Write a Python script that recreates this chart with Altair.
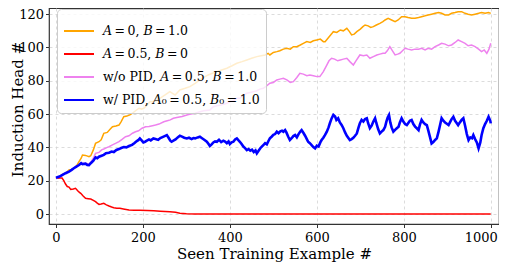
import altair as alt
import pandas as pd

T = "\u2009"
labels = [f"𝐴{T}={T}0, 𝐵{T}={T}1.0", f"𝐴{T}={T}0.5, 𝐵{T}={T}0",
          f"w/o PID, 𝐴{T}={T}0.5, 𝐵{T}={T}1.0", f"w/ PID, 𝐴₀{T}={T}0.5, 𝐵₀{T}={T}1.0"]
colors = ["#FFA500", "#FF0000", "#EE82EE", "#0000FF"]
x_ticks = [0, 200, 400, 600, 800, 1000]
y_ticks = [0, 20, 40, 60, 80, 100, 120]

orange = [(0,21.5),(8,22.3),(15,23.8),(22,24.5),(30,26.4),(36,26.8),(41,27.4),(47,28.8),(53,31.4),(58,33.5),(61,35.4),(68,35.2),(76,34.4),(80,35),(86,38.5),(91,42.4),(99,43.4),(104,44.5),(110,48.4),(118,49),(125,51),(130,52.4),(138,52.8),(145,53.4),(150,55.5),(156,58.4),(163,58.8),(170,59.5),(176,60.5),(183,62),(191,63.5),(197,63),(202,63.5),(210,65.5),(216,67.4),(222,67.4),(230,68),(239,69.5),(251,71.5),(262,73.5),(268,72.5),(274,71.5),(285,74.5),(297,75.5),(308,76.5),(320,78.5),(331,80.5),(340,82),(350,83.5),(360,84.5),(370,85.5),(381,86.5),(393,87.5),(405,89),(416,90.5),(428,91.5),(439,92.5),(450,93.5),(462,94.5),(472,95),(481,95.5),(488,96.5),(492,95.5),(500,97),(508,97.5),(515,98),(523,99),(531,99.5),(539,99),(546,100.5),(554,100.5),(562,101.5),(569,102.5),(577,103.5),(585,103),(592,104),(600,104.5),(608,105),(615,103.5),(619,103.5),(627,106),(635,108.5),(638,109.5),(646,109),(654,110.5),(661,110),(669,111.5),(675,109.5),(680,107.5),(686,108),(692,109.5),(700,111),(706,112.5),(711,113.5),(718,113),(724,112),(730,112.5),(737,113.5),(745,114.5),(752,115.5),(757,116.5),(764,117.5),(772,116.5),(780,115.5),(787,116.5),(795,118.5),(803,118.5),(810,118),(818,117.5),(826,117.5),(834,118),(841,118.5),(849,119),(856,119.5),(864,120),(872,120.5),(880,121),(887,120.5),(895,119.5),(903,119.5),(910,120.5),(918,121),(925,121.5),(933,121.5),(941,120.5),(948,120),(956,119.5),(964,120),(972,120.5),(979,121),(987,120.5),(995,121),(1000,120.5)]

red = [(0,21.5),(10,21.6),(14,21.6),(18,20),(22,18),(26,16.5),(30,16.2),(34,14.8),(40,15),(45,15.4),(50,14),(54,13),(57,12.4),(62,11),(68,9.4),(74,9.2),(80,9),(86,8.2),(91,7.4),(95,6.5),(99,5.8),(104,6),(110,6.4),(116,5.5),(122,4.8),(128,4.2),(133,3.8),(140,3.5),(147,3.4),(155,3),(168,2.4),(180,2.3),(193,2.3),(210,2.1),(225,1.9),(240,1.7),(262,1.4),(275,1.0),(285,0.5),(300,0.2),(320,0.05),(331,0),(400,0),(500,0),(600,0),(700,0),(800,0),(900,0),(1000,0)]

violet = [(0,21.5),(8,22.3),(15,23.5),(22,24.5),(30,25.8),(36,26.5),(41,27.5),(47,28.5),(53,29.5),(61,30.4),(68,30.5),(76,30),(80,31),(86,33.5),(91,36.4),(99,37),(105,38.5),(110,39),(118,40),(122,40.4),(130,41.5),(137,42.4),(145,43.5),(152,44.8),(160,46.4),(168,47),(176,48.5),(183,49.4),(190,50),(198,51.5),(206,52.4),(214,52.5),(222,53),(229,53.4),(237,54),(248,55.4),(256,56),(263,56.5),(270,57.5),(278,58),(290,58.5),(301,59.5),(310,60),(320,60.5),(331,61.4),(340,62),(354,62.5),(362,64.4),(370,65),(380,65.5),(393,66.5),(400,67.4),(408,68),(416,69.5),(423,69.5),(430,71),(439,72.5),(447,73),(455,73.5),(462,74),(469,75),(477,75.5),(485,77),(492,78.5),(500,79),(508,80.5),(515,81),(523,81.5),(531,80.5),(539,79),(546,79.5),(554,82),(561,84.5),(569,84),(577,83),(584,83.5),(592,83),(600,82.5),(607,82.5),(615,85.5),(622,89),(628,92),(634,93.5),(641,93),(648,92),(654,92.5),(661,93),(669,93.5),(676,91.5),(684,89.5),(690,92),(699,95.5),(707,95),(715,95.5),(722,93.5),(730,94.5),(738,95.5),(745,96),(752,96.5),(757,96.5),(762,98),(768,100.5),(774,98),(780,95.5),(786,96),(791,96.5),(797,98),(803,99.5),(810,99),(818,98.5),(826,99),(834,99),(841,99.5),(849,98.5),(856,99.5),(864,99),(872,100.5),(880,101.5),(887,102.5),(895,102),(903,101),(910,101.5),(918,103),(925,104.5),(933,103.5),(941,102.5),(948,101),(956,101.5),(964,100.5),(972,99),(979,97.5),(985,98.5),(991,96.5),(996,99),(1000,102.5)]

blue = [(0,21.8),(8,22.5),(15,23.5),(22,24.5),(30,25.4),(36,26.5),(41,27.5),(47,28.5),(53,29.4),(58,30.5),(61,30),(68,30.2),(72,29.5),(76,29.4),(80,30.5),(86,32),(91,34),(95,33.5),(99,34.4),(105,35),(110,35.5),(115,36.5),(122,36.8),(128,37.5),(133,37.2),(139,38.5),(145,39),(150,39.6),(156,40.2),(162,40),(168,40.8),(175,41.5),(180,42.5),(186,43.8),(190,44.5),(193,45.4),(197,44.2),(201,43),(205,43.4),(209,44),(214,44.8),(218,44.2),(224,45.4),(229,45),(235,44.5),(240,45.6),(245,46.2),(250,46.8),(255,47.4),(259,45.8),(263,44),(266,43.4),(270,44),(275,44.8),(280,46),(285,47),(290,46.5),(295,45.8),(301,45.4),(306,45.8),(312,45),(316,45.6),(320,45.4),(326,46),(331,46.4),(336,45.5),(341,44.6),(347,43.4),(351,42),(354,40.8),(358,41.8),(362,43),(366,43.6),(370,43.4),(375,44.6),(380,43.2),(385,44),(389,43.5),(393,42.5),(397,43.6),(400,42),(404,43),(408,43.4),(412,44.8),(416,45.4),(419,44.5),(423,43.4),(427,42),(431,40.5),(435,39.6),(439,38.4),(443,39),(447,38),(451,38.6),(455,37.2),(459,38.2),(462,36.4),(466,38),(470,39.5),(474,40.6),(477,41.4),(481,42.5),(485,41.8),(489,44),(492,45.4),(496,46.4),(500,47.5),(504,48),(508,49.4),(512,48.5),(516,49.6),(520,50),(523,49.4),(527,50.4),(530,49),(534,46.5),(538,44.4),(542,45.5),(546,46.8),(550,47.4),(554,46),(558,48),(562,49.5),(565,50.4),(569,48.8),(573,47),(577,45),(580,43.4),(584,42.5),(588,41.4),(592,40.2),(596,39.4),(600,41),(604,40.5),(608,43),(611,44.4),(615,45.8),(619,47.5),(623,49.4),(627,52),(630,54.5),(634,57.4),(638,59.5),(642,58.5),(645,56.5),(649,57.5),(653,55),(657,53.5),(661,51.5),(665,49),(669,47),(673,45.5),(676,44.4),(680,45),(684,45.8),(688,47),(692,48.4),(696,52),(699,54.5),(703,56.5),(707,55.5),(711,57),(715,57.5),(718,54.5),(722,51.5),(726,53),(730,55.5),(734,57.5),(737,54.5),(741,51),(745,48.4),(749,49.5),(753,50.4),(757,52.4),(760,55.5),(763,58),(766,59.5),(769,55),(772,52),(776,49.4),(780,50.5),(784,51.5),(788,52.4),(791,55),(795,57.5),(799,55.5),(803,54),(807,53.4),(810,54.5),(814,56),(818,56.5),(822,54),(826,52.5),(830,51.5),(834,50.4),(837,53.5),(841,56.5),(845,55),(849,54),(853,53.4),(856,50.5),(860,46.5),(864,42.4),(868,43.2),(872,44.5),(876,45.4),(880,49.5),(884,54),(887,57.5),(891,56),(895,55),(899,54.2),(903,53.4),(907,55.5),(910,57),(914,58.4),(918,56),(922,54.5),(925,53.4),(929,55),(933,56.5),(937,57.5),(941,53),(945,48),(949,44.4),(953,46),(957,45.5),(960,47.4),(964,45),(968,43),(972,39.4),(976,43),(979,47.5),(983,51.5),(987,54),(991,56),(995,58.4),(999,56),(1000,54.4)]

rows = []
for name, pts in zip(labels, [orange, red, violet, blue]):
    for x, y in pts:
        rows.append({"series": name, "x": x, "y": y})
df = pd.DataFrame(rows)

legend = alt.Legend(
    title=None, orient="none", legendX=8, legendY=1,
    symbolType="stroke", symbolSize=900, symbolStrokeWidth=2,
    labelFont="DejaVu Serif", labelFontSize=12.5, labelColor="black", labelLimit=0,
    fillColor="rgba(255,255,255,0.8)", strokeColor="#cccccc", cornerRadius=4,
    padding=6, rowPadding=-13, labelOffset=8,
)

xenc = alt.X("x:Q", scale=alt.Scale(domain=[-16, 1019], nice=False, zero=False),
             axis=alt.Axis(values=x_ticks, title="Seen Training Example #", titleY=34,
                           titleBaseline="alphabetic", labelPadding=3.5, format="d",
                           labelOffset={"condition": {"test": "datum.value == 1000", "value": -10}, "value": 0}))
yenc = alt.Y("y:Q", scale=alt.Scale(domain=[-6, 123.7], nice=False, zero=False),
             axis=alt.Axis(values=y_ticks, title="Induction Head #", titleX=-27, titleY=101,
                           titleAngle=-90, titleAlign="center", titleBaseline="alphabetic",
                           labelPadding=2))
cenc = alt.Color("series:N", scale=alt.Scale(domain=labels, range=colors), legend=legend)

base = alt.Chart(df)
thin = base.transform_filter(alt.datum.series != labels[3]).mark_line(strokeWidth=1.5, clip=True).encode(
    x=xenc, y=yenc, color=cenc)
thick = base.transform_filter(alt.datum.series == labels[3]).mark_line(strokeWidth=2.6, clip=True).encode(
    x=xenc, y=yenc, color=cenc)

chart = alt.layer(thin, thick).properties(
    width=450, height=216,
    autosize=alt.AutoSizeParams(type="none"),
    padding={"left": 41, "top": 0, "right": 0, "bottom": 38},
).configure_view(stroke="#333333", strokeWidth=1.2).configure_axis(
    labelFont="DejaVu Serif", labelFontSize=13, labelColor="black",
    titleFont="DejaVu Serif", titleFontSize=15, titleFontWeight="normal", titleColor="black",
    gridColor="#d3d3d3", gridDash=[3, 3], gridWidth=0.8,
    tickColor="#333333", tickSize=3.5, tickWidth=1, domain=False,
)

chart.save("out.html", embed_options={"renderer": "svg", "actions": False})
